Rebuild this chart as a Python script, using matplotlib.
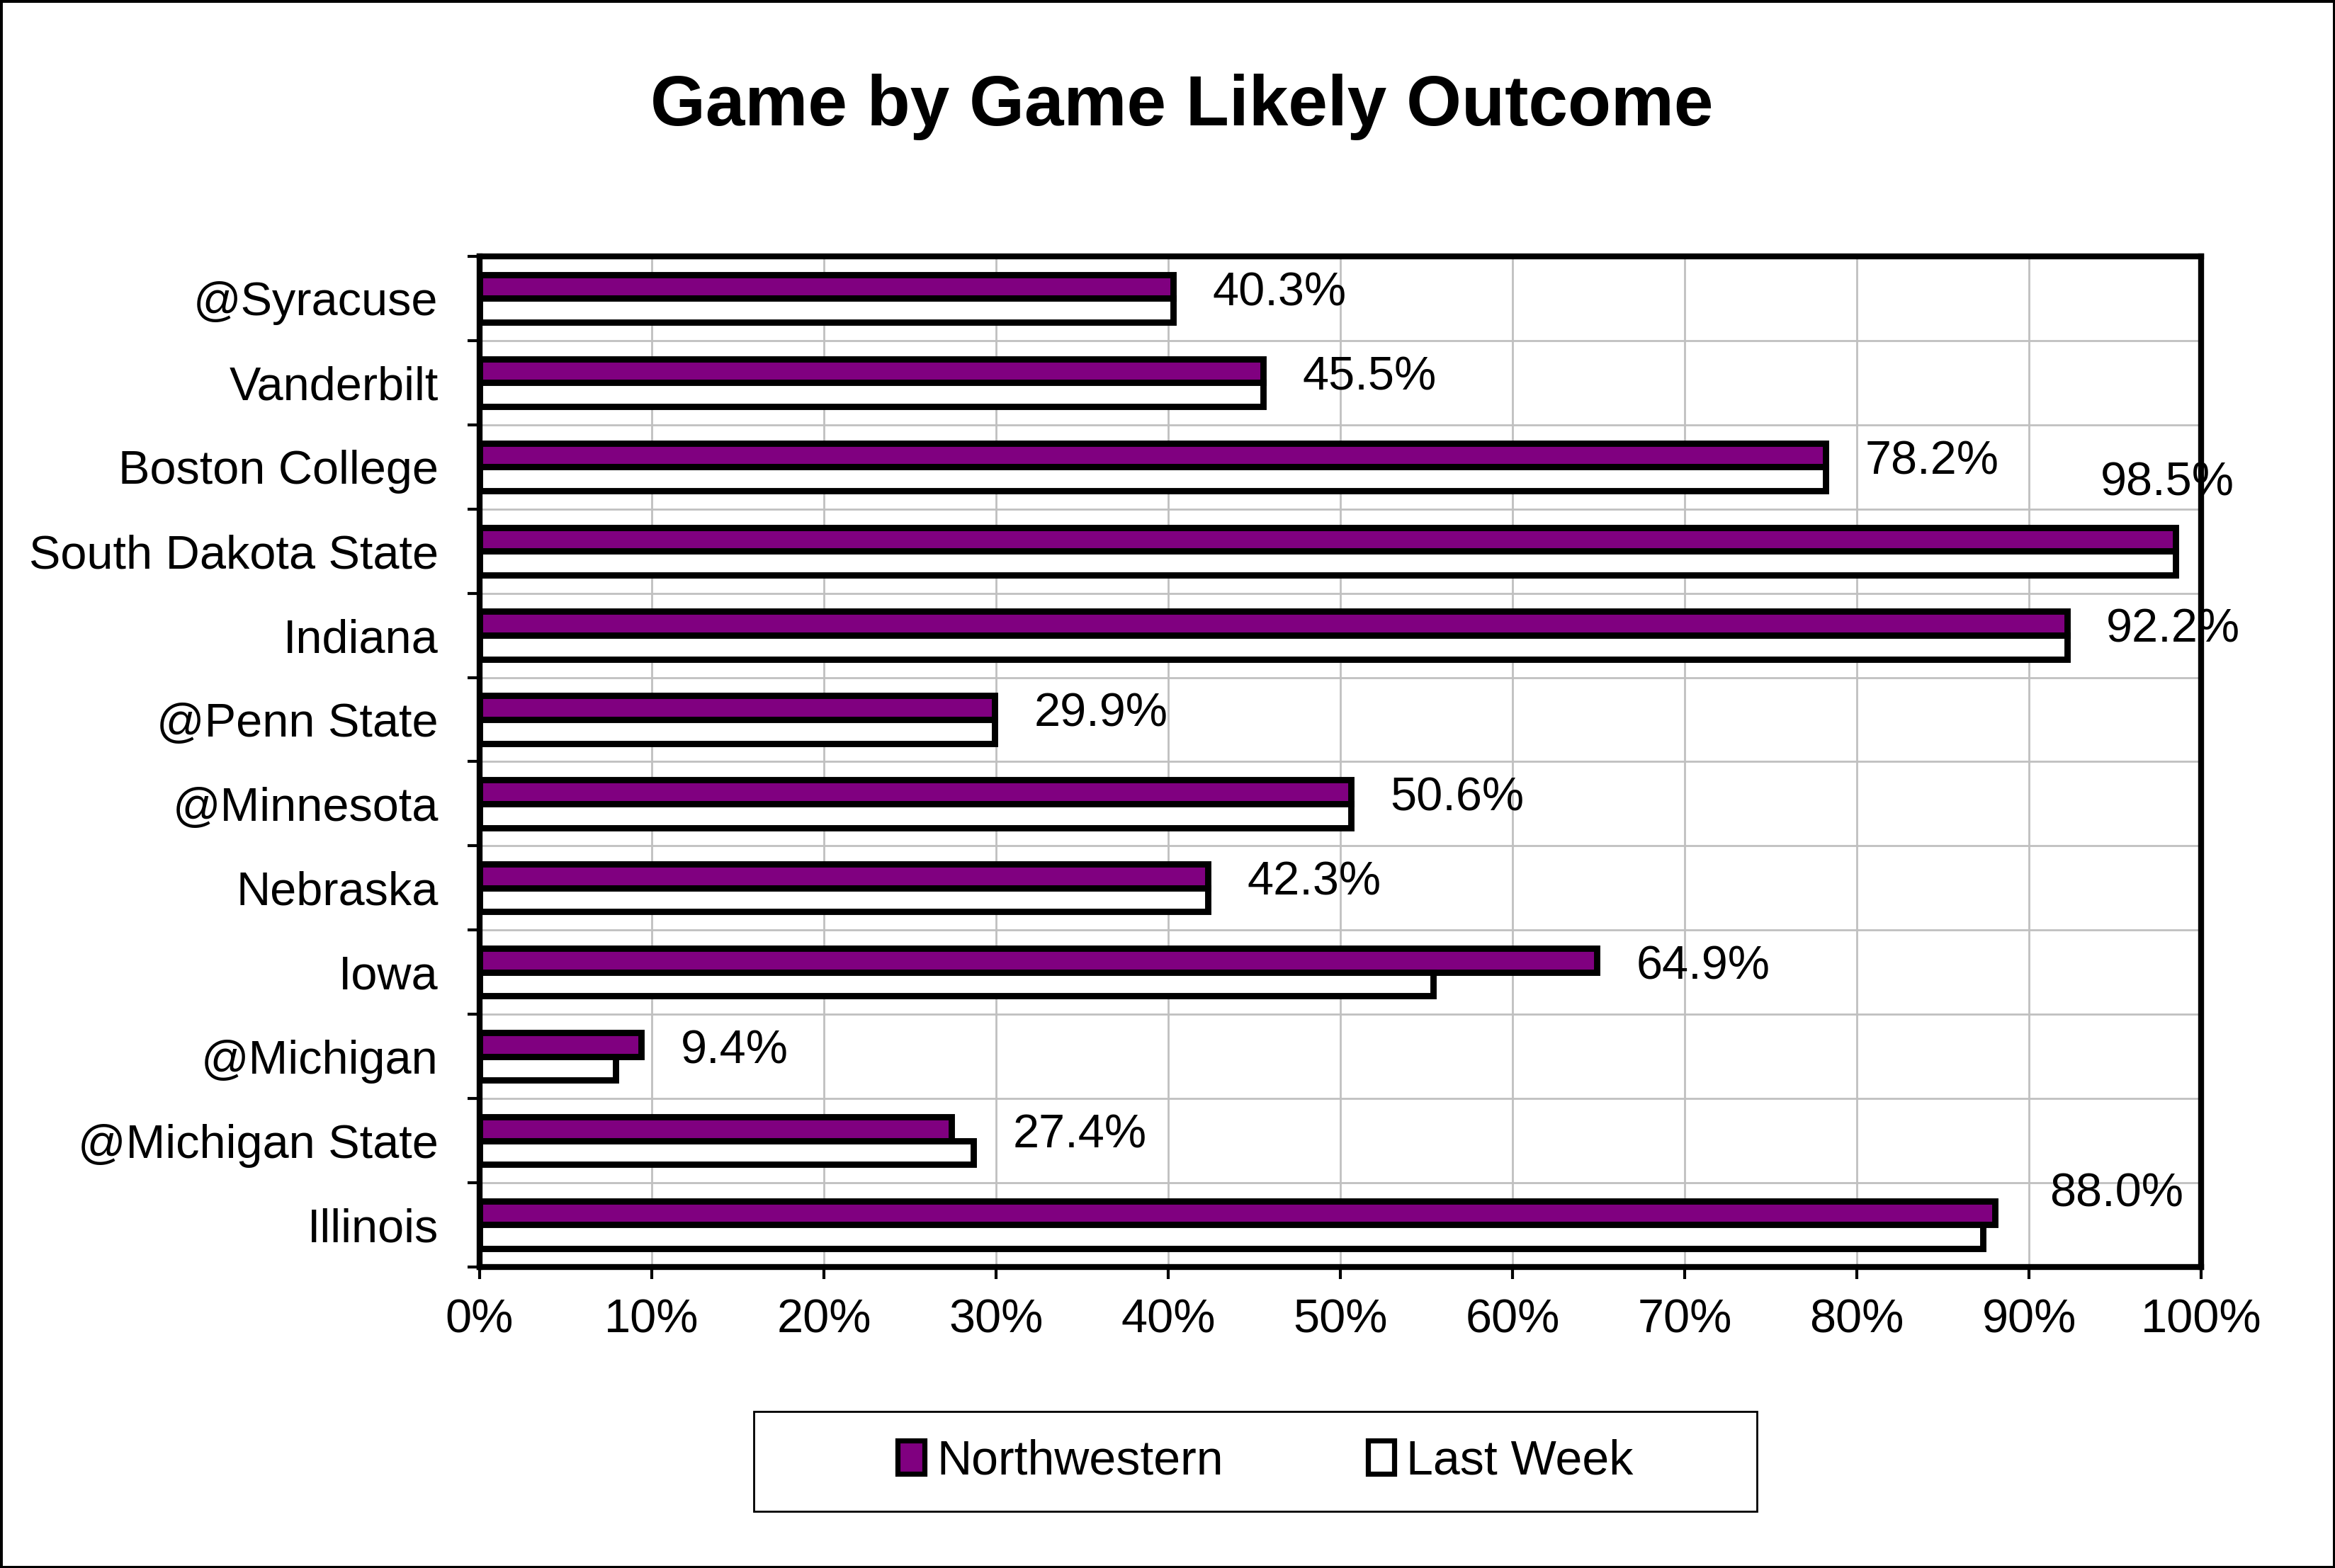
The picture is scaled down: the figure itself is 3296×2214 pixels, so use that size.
import matplotlib
matplotlib.use("Agg")
import matplotlib.pyplot as plt
from matplotlib.patches import Patch, Rectangle
from matplotlib.ticker import FuncFormatter
import numpy as np

categories = ["@Syracuse", "Vanderbilt", "Boston College", "South Dakota State",
              "Indiana", "@Penn State", "@Minnesota", "Nebraska", "Iowa",
              "@Michigan", "@Michigan State", "Illinois"]
northwestern = [40.3, 45.5, 78.2, 98.5, 92.2, 29.9, 50.6, 42.3, 64.9, 9.4, 27.4, 88.0]
last_week = [40.3, 45.5, 78.2, 98.5, 92.2, 29.9, 50.6, 42.3, 55.4, 7.9, 28.7, 87.3]
x_ticks = [0, 10, 20, 30, 40, 50, 60, 70, 80, 90, 100]

PURPLE = "#800080"
FONT = ["Liberation Sans", "DejaVu Sans"]
plt.rcParams["font.family"] = FONT

fig = plt.figure(figsize=(16.48, 11.07), dpi=200)
ax = fig.add_axes([0.2054, 0.192, 0.7373, 0.6445])

n = len(categories)
y = np.arange(n)
h = 0.283
ax.barh(y - h / 2, northwestern, height=h, color=PURPLE, edgecolor="black",
        linewidth=3.2, zorder=3, label="Northwestern")
ax.barh(y + h / 2, last_week, height=h, color="white", edgecolor="black",
        linewidth=3.2, zorder=3, label="Last Week")

ax.set_xlim(0, 100)
ax.set_ylim(n - 0.5, -0.5)
ax.set_xticks(x_ticks)
ax.xaxis.set_major_formatter(FuncFormatter(lambda v, p: f"{v:.0f}%"))

# y ticks at category boundaries, labels at category centers
ax.set_yticks(np.arange(n + 1) - 0.5)
ax.set_yticklabels([])
ax.set_yticks(y, minor=True)
ax.set_yticklabels(categories, minor=True)
ax.tick_params(axis="y", which="minor", length=0, pad=21, labelsize=24)
ax.tick_params(axis="y", which="major", length=6, width=1.5, direction="out")
ax.tick_params(axis="x", length=6, width=1.5, direction="out", pad=10, labelsize=24)

ax.grid(True, which="major", color="#c0c0c0", linewidth=1.0, zorder=0)
ax.set_axisbelow(True)
for s in ax.spines.values():
    s.set_linewidth(3.0)
    s.set_color("black")

# data labels
nudge = {"South Dakota State": (-58, 32), "Illinois": (8, 13)}
for i, (cat, v) in enumerate(zip(categories, northwestern)):
    x_end = max(v, last_week[i])
    dx, dy = nudge.get(cat, (0, 0))
    ax.annotate(f"{v:.1f}%", xy=(x_end, i - 0.06), xytext=(20 + dx, dy),
                textcoords="offset points", ha="left", va="center",
                fontsize=24, zorder=5, annotation_clip=False)

fig.text(0.506, 0.932, "Game by Game Likely Outcome", ha="center", va="center",
         fontsize=36, fontweight="bold")

# legend
handles = [Patch(facecolor=PURPLE, edgecolor="black", linewidth=2.6, label="Northwestern"),
           Patch(facecolor="white", edgecolor="black", linewidth=2.6, label="Last Week")]
fig.legend(handles=handles, loc="center", bbox_to_anchor=(0.542, 0.068), ncol=2,
           frameon=False, fontsize=24.5, handlelength=0.55, handleheight=0.7,
           handletextpad=0.25, columnspacing=3.0)
fig.patches.append(Rectangle((0.3228, 0.0361), 0.4296, 0.0637, transform=fig.transFigure,
                             fill=False, edgecolor="black", linewidth=1.0))
fig.patches.append(Rectangle((0, 0), 1, 1, transform=fig.transFigure,
                             fill=False, edgecolor="black", linewidth=2.5))

fig.savefig("out.png", dpi=200, facecolor="white")
